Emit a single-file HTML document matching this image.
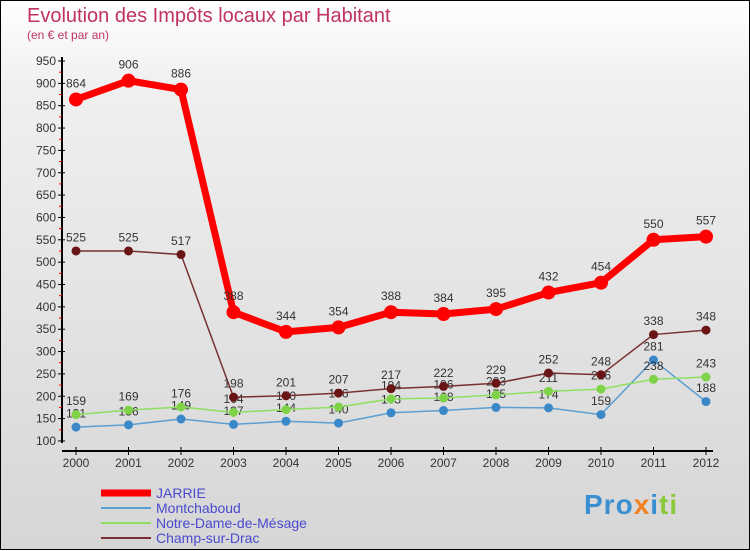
<!DOCTYPE html>
<html><head><meta charset="utf-8"><style>
body{margin:0;width:750px;height:550px;overflow:hidden;font-family:"Liberation Sans",sans-serif}
#wrap{position:relative;width:748px;height:548px;border:1px solid #000;background:linear-gradient(#fff 0%,#f0f0f0 15%,#d6d6d6 100%)}
.t{position:absolute;color:#c0335f}
</style></head><body>
<div id="wrap">
<div class="t" style="left:26px;top:4px;font-size:20px">Evolution des Impôts locaux par Habitant</div>
<div class="t" style="left:26px;top:27px;font-size:12px">(en € et par an)</div>
<svg id="c" width="750" height="550" style="position:absolute;left:0;top:0"></svg>
<div style="position:absolute;left:583px;top:488px;font-size:28px;font-weight:bold;letter-spacing:1px"><span style="color:#3a8fd0">Pro</span><span style="color:#f08020">x</span><span style="color:#3a8fd0">i</span><span style="color:#8cc83c">ti</span></div>
</div>
<script>
const years=[2000,2001,2002,2003,2004,2005,2006,2007,2008,2009,2010,2011,2012];
const jarrie=[864,906,886,388,344,354,388,384,395,432,454,550,557];
const montchaboud=[131,136,149,137,144,140,163,168,175,174,159,281,188];
const notreDame=[159,169,176,164,170,176,194,196,203,211,216,238,243];
const champ=[525,525,517,198,201,207,217,222,229,252,248,338,348];
const yTicks=[100,150,200,250,300,350,400,450,500,550,600,650,700,750,800,850,900,950];
const NS='http://www.w3.org/2000/svg';
const svg=document.getElementById('c');
const x=i=>75+i*52.5;
const y=v=>60+(950-v)*0.447;
function mk(t,a){const e=document.createElementNS(NS,t);for(const k in a)e.setAttribute(k,a[k]);svg.appendChild(e);return e;}
let e=mk('line',{x1:61,y1:56,x2:61,y2:442,stroke:'#000','stroke-width':2});


e=mk('line',{x1:61,y1:450,x2:712,y2:450,stroke:'#000','stroke-width':2});


yTicks.forEach((v,k)=>{
 mk('line',{x1:57,y1:y(v),x2:64,y2:y(v),stroke:'#000'});
 if(k<yTicks.length-1) mk('line',{x1:58,y1:y(v+25),x2:61,y2:y(v+25),stroke:'#e00'});
 const t=mk('text',{x:55,y:y(v)+4,'text-anchor':'end','font-size':12,fill:'#333'});t.textContent=v;
 
 
});
years.forEach((yr,i)=>{
 mk('line',{x1:x(i),y1:446,x2:x(i),y2:454,stroke:'#000'});
 const t=mk('text',{x:x(i),y:466,'text-anchor':'middle','font-size':12,fill:'#333'});t.textContent=yr;
 
 
});
function series(data,color,w,r,name,dot){
 const p=mk('polyline',{points:data.map((v,i)=>x(i)+','+y(v)).join(' '),fill:'none',stroke:color,'stroke-width':w,'stroke-linejoin':'round'});
 
 
 data.forEach((v,i)=>{
  const c=mk('circle',{cx:x(i),cy:y(v),r:r,fill:dot||color});
  
  
  const t=mk('text',{x:x(i),y:y(v)-(r+5),'text-anchor':'middle','font-size':12,fill:'#333'});t.textContent=v;
  
  
 });
}
series(montchaboud,'#5a9fd4',1.5,4.5,'montchaboud','#3a88c8');
series(notreDame,'#8ee060',1.5,4.5,'notre-dame','#7ed348');
series(champ,'#7a3030',1.5,4.5,'champ-sur-drac','#6a1515');
series(jarrie,'#f00',7,7,'jarrie','#f00');
const leg=[['JARRIE','#f00',7],['Montchaboud','#5a9fd4',2],['Notre-Dame-de-Mésage','#8ee060',2],['Champ-sur-Drac','#7a3030',2]];
leg.forEach((l,i)=>{
 const yy=492+i*15;
 mk('line',{x1:100,y1:yy,x2:150,y2:yy,stroke:l[1],'stroke-width':l[2]});
 const t=mk('text',{x:155,y:yy+5,'font-size':14,fill:'#4a4ad0'});t.textContent=l[0];
 
 
});
</script>
</body></html>
